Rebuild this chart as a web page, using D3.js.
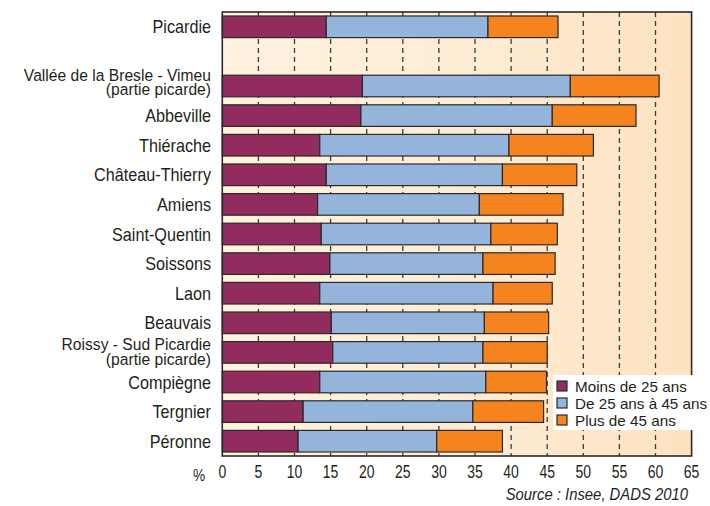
<!DOCTYPE html>
<meta charset="utf-8">
<style>
body {
  margin: 0;
  background: #fff;
}
text {
  font-family: "Liberation Sans", Arial, sans-serif;
  fill: #231f20;
}
.grid line {
  stroke: #3a3a3a;
  stroke-width: 1.3px;
  stroke-dasharray: 5,4;
}
.bar {
  stroke: #2a2a2a;
  stroke-width: 1.2px;
}
</style>
<body>
<script src="https://d3js.org/d3.v7.min.js"></script>
<script>

var width = 710,
    height = 506;

// zones d'emploi, top to bottom ("" = empty slot under Picardie)
var categories = ["Picardie", "", "Vallée de la Bresle - Vimeu\n(partie picarde)", "Abbeville",
  "Thiérache", "Château-Thierry", "Amiens", "Saint-Quentin", "Soissons", "Laon",
  "Beauvais", "Roissy - Sud Picardie\n(partie picarde)", "Compiègne", "Tergnier", "Péronne"];

var moins25 = [14.4, null, 19.4, 19.2, 13.5, 14.4, 13.2, 13.7, 14.9, 13.5, 15.1, 15.3, 13.5, 11.2, 10.5];
var de25a45 = [22.4, null, 28.8, 26.5, 26.2, 24.4, 22.4, 23.5, 21.2, 24.0, 21.2, 20.8, 23.0, 23.5, 19.2];
var plus45  = [9.7, null, 12.3, 11.6, 11.7, 10.3, 11.6, 9.2, 10.0, 8.2, 8.9, 8.9, 8.4, 9.8, 9.1];

var seriesNames = ["Moins de 25 ans", "De 25 ans à 45 ans", "Plus de 45 ans"];
var seriesColors = ["#922b5e", "#95b4dc", "#f5841f"];
var xTicks = d3.range(0, 66, 5);

var x = d3.scaleLinear().domain([0, 65]).range([222.3, 691.6]);
var y = d3.scaleBand()
    .domain(categories.map(function(d, i) { return i; }))
    .range([12, 456])
    .paddingInner(0.27)
    .paddingOuter(0.135);

var svg = d3.select("body").append("svg")
    .attr("width", width)
    .attr("height", height);

// condensed look: normal font squeezed horizontally
function label(px, py, str, size, squeeze, anchor, italic) {
  return svg.append("text")
      .attr("transform", "translate(" + px + "," + py + ") scale(" + squeeze + ",1)")
      .attr("text-anchor", anchor || "start")
      .style("font-size", size + "px")
      .style("font-style", italic ? "italic" : null)
      .text(str);
}

var grad = svg.append("defs").append("linearGradient")
    .attr("id", "bg")
    .attr("x1", "0%").attr("x2", "100%");
grad.append("stop").attr("offset", "0%").attr("stop-color", "#fff2df");
grad.append("stop").attr("offset", "55%").attr("stop-color", "#feecd4");
grad.append("stop").attr("offset", "100%").attr("stop-color", "#fde2bf");

svg.append("rect")
    .attr("x", x(0)).attr("y", 12)
    .attr("width", x(65) - x(0)).attr("height", 444)
    .attr("fill", "url(#bg)");

svg.append("g")
    .attr("class", "grid")
  .selectAll("line")
    .data(xTicks.slice(1, -1))
  .enter().append("line")
    .attr("x1", function(d) { return x(d); })
    .attr("x2", function(d) { return x(d); })
    .attr("y1", 12)
    .attr("y2", 456);

// stacked bars
var rows = categories.map(function(c, i) {
  return {i: i, v: [moins25[i], de25a45[i], plus45[i]]};
}).filter(function(r) { return r.v[0] != null; });

rows.forEach(function(r) {
  var start = 0;
  r.v.forEach(function(v, k) {
    svg.append("rect")
        .attr("class", "bar")
        .attr("x", x(start))
        .attr("y", y(r.i))
        .attr("width", x(start + v) - x(start))
        .attr("height", y.bandwidth())
        .attr("fill", seriesColors[k]);
    start += v;
  });
});

svg.append("rect")
    .attr("x", x(0)).attr("y", 12)
    .attr("width", x(65) - x(0)).attr("height", 444)
    .attr("fill", "none")
    .attr("stroke", "#2a2a2a")
    .attr("stroke-width", 1.6);

// category labels
categories.forEach(function(c, i) {
  if (!c) return;
  var lines = c.split("\n");
  var cy = y(i) + y.bandwidth() / 2;
  if (lines.length == 1) {
    label(211, cy + 6.5, lines[0], 18, 0.9, "end");
  } else {
    // sits a bit lower when there is a label just above
    var dy = categories[i - 1] ? 3.5 : 0;
    label(211, cy - 5.5 + dy, lines[0], 17, 0.92, "end");
    label(211, cy + 9 + dy, lines[1], 17, 0.92, "end");
  }
});

// axis labels
xTicks.forEach(function(d) {
  label(x(d), 478, d, 17.5, 0.8, "middle");
});
label(199, 481, "%", 17, 0.8, "middle");

label(688, 500, "Source : Insee, DADS 2010", 16.5, 0.9, "end", true);

// legend
var legend = svg.append("g");
legend.append("rect")
    .attr("x", 553).attr("y", 375)
    .attr("width", 157).attr("height", 55)
    .attr("fill", "#fff");
seriesNames.forEach(function(s, k) {
  var ly = 386 + k * 17;
  legend.append("rect")
      .attr("x", 557).attr("y", ly - 5)
      .attr("width", 10).attr("height", 10)
      .attr("fill", seriesColors[k])
      .attr("stroke", "#2a2a2a")
      .attr("stroke-width", 1.2);
  label(575, ly + 5.5, s, 14.8, 1.03);
});

</script>
